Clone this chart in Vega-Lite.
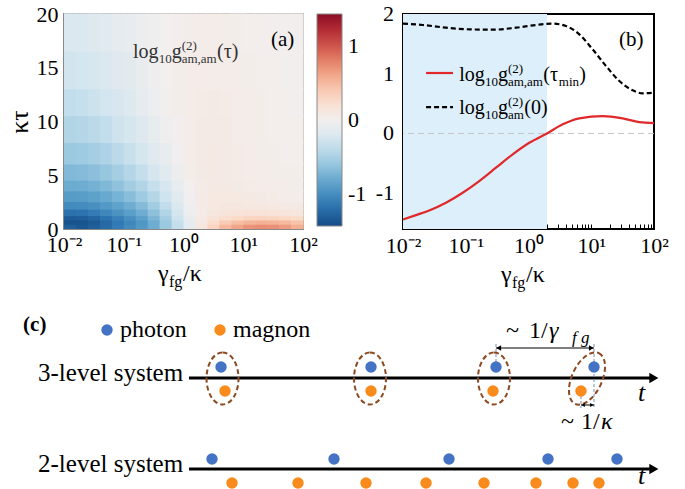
{
  "$schema": "https://vega.github.io/schema/vega-lite/v6.json",
  "background": "white",
  "padding": {"left": 5, "top": 2, "right": 0, "bottom": 0},
  "spacing": -1,
  "resolve": {"scale": {"color": "independent"}, "legend": {"color": "independent"}},
  "datasets": {
    "xbins": [
      {"k": 0, "x": 0.01, "x2": 0.015849},
      {"k": 1, "x": 0.015849, "x2": 0.025119},
      {"k": 2, "x": 0.025119, "x2": 0.039811},
      {"k": 3, "x": 0.039811, "x2": 0.063096},
      {"k": 4, "x": 0.063096, "x2": 0.1},
      {"k": 5, "x": 0.1, "x2": 0.158489},
      {"k": 6, "x": 0.158489, "x2": 0.251189},
      {"k": 7, "x": 0.251189, "x2": 0.398107},
      {"k": 8, "x": 0.398107, "x2": 0.630957},
      {"k": 9, "x": 0.630957, "x2": 1},
      {"k": 10, "x": 1, "x2": 1.584893},
      {"k": 11, "x": 1.584893, "x2": 2.511886},
      {"k": 12, "x": 2.511886, "x2": 3.981072},
      {"k": 13, "x": 3.981072, "x2": 6.309573},
      {"k": 14, "x": 6.309573, "x2": 10},
      {"k": 15, "x": 10, "x2": 15.848932},
      {"k": 16, "x": 15.848932, "x2": 25.118864},
      {"k": 17, "x": 25.118864, "x2": 39.810717},
      {"k": 18, "x": 39.810717, "x2": 63.095734},
      {"k": 19, "x": 63.095734, "x2": 100}
    ]
  },
  "vconcat": [
    {
      "hconcat": [
        {
          "width": 239,
          "height": 215,
          "view": {"stroke": "#888888", "strokeWidth": 2},
          "layer": [
            {
              "data": {"values": [
                {"y": 0, "y2": 0.4, "k": [0,1,2,3,4,5,6,7,8,9,10,11,12,13,14,15,16,17,18,19], "v": [-1.3,-1.35,-1.3,-1.22,-1.12,-1.02,-0.92,-0.78,-0.58,-0.36,-0.12,0.12,0.33,0.5,0.62,0.7,0.73,0.72,0.66,0.56]},
                {"y": 0.4, "y2": 0.8, "k": [0,1,2,3,4,5,6,7,8,9,10,11,12,13,14,15,16,17,18,19], "v": [-1.38,-1.38,-1.33,-1.24,-1.14,-1.04,-0.93,-0.78,-0.58,-0.35,-0.11,0.1,0.26,0.38,0.47,0.53,0.55,0.54,0.5,0.44]},
                {"y": 0.8, "y2": 1.2, "k": [0,1,2,3,4,5,6,7,8,9,10,11,12,13,14,15,16,17,18,19], "v": [-1.32,-1.31,-1.26,-1.17,-1.08,-0.98,-0.87,-0.72,-0.53,-0.31,-0.09,0.08,0.17,0.24,0.29,0.32,0.33,0.32,0.3,0.27]},
                {"y": 1.2, "y2": 1.8, "k": [0,1,2,3,4,5,6,7,8,9,10,11,12,13,14,15,16,17,18,19], "v": [-1.18,-1.17,-1.12,-1.04,-0.96,-0.88,-0.78,-0.64,-0.46,-0.26,-0.06,0.06,0.12,0.15,0.17,0.18,0.18,0.17,0.15,0.13]},
                {"y": 1.8, "y2": 2.5, "k": [0,1,2,3,4,5,6,7,8,9,10,11,12,13,14,15,16,17,18,19], "v": [-1.02,-1.01,-0.98,-0.92,-0.85,-0.78,-0.68,-0.55,-0.38,-0.2,-0.04,0.06,0.09,0.11,0.11,0.1,0.1,0.09,0.08,0.07]},
                {"y": 2.5, "y2": 3.5, "k": [0,1,2,3,4,5,6,7,8,9,10,11,12,13,14,15,16,17,18,19], "v": [-0.9,-0.89,-0.86,-0.81,-0.74,-0.66,-0.56,-0.44,-0.3,-0.15,-0.02,0.06,0.09,0.09,0.09,0.08,0.07,0.06,0.05,0.05]},
                {"y": 3.5, "y2": 4.5, "k": [0,1,2,3,4,5,6,7,8,9,10,11,12,13,14,15,16,17,18,19], "v": [-0.79,-0.78,-0.75,-0.7,-0.63,-0.55,-0.46,-0.35,-0.23,-0.1,0.0,0.06,0.08,0.08,0.07,0.06,0.05,0.04,0.04,0.03]},
                {"y": 4.5, "y2": 6, "k": [0,1,2,3,4,5,6,7,8,9,10,11,12,13,14,15,16,17,18,19], "v": [-0.69,-0.68,-0.65,-0.6,-0.53,-0.45,-0.36,-0.26,-0.15,-0.05,0.03,0.07,0.08,0.07,0.06,0.05,0.04,0.03,0.03,0.03]},
                {"y": 6, "y2": 8, "k": [0,1,2,3,4,5,6,7,8,9,10,11,12,13,14,15,16,17,18,19], "v": [-0.58,-0.56,-0.53,-0.48,-0.41,-0.34,-0.26,-0.17,-0.09,-0.02,0.04,0.07,0.08,0.07,0.06,0.04,0.03,0.03,0.02,0.02]},
                {"y": 8, "y2": 10.5, "k": [0,1,2,3,4,5,6,7,8,9,10,11,12,13,14,15,16,17,18,19], "v": [-0.46,-0.44,-0.41,-0.37,-0.31,-0.25,-0.18,-0.11,-0.04,0.01,0.05,0.07,0.07,0.07,0.05,0.04,0.03,0.02,0.02,0.02]},
                {"y": 10.5, "y2": 13, "k": [0,1,2,3,4,5,6,7,8,9,10,11,12,13,14,15,16,17,18,19], "v": [-0.37,-0.35,-0.32,-0.28,-0.23,-0.18,-0.12,-0.06,-0.01,0.03,0.05,0.06,0.07,0.06,0.05,0.04,0.03,0.02,0.02,0.01]},
                {"y": 13, "y2": 16.5, "k": [0,1,2,3,4,5,6,7,8,9,10,11,12,13,14,15,16,17,18,19], "v": [-0.29,-0.27,-0.24,-0.21,-0.17,-0.13,-0.08,-0.04,0.0,0.03,0.05,0.05,0.05,0.05,0.04,0.03,0.02,0.02,0.01,0.01]},
                {"y": 16.5, "y2": 20, "k": [0,1,2,3,4,5,6,7,8,9,10,11,12,13,14,15,16,17,18,19], "v": [-0.21,-0.2,-0.18,-0.15,-0.12,-0.09,-0.06,-0.03,0.0,0.02,0.03,0.04,0.04,0.03,0.03,0.02,0.02,0.01,0.01,0.01]}
              ]},
              "transform": [
                {"flatten": ["k", "v"]},
                {"lookup": "k", "from": {"data": {"name": "xbins"}, "key": "k", "fields": ["x", "x2"]}}
              ],
              "mark": {"type": "rect", "x2Offset": 0.7, "y2Offset": -0.7},
              "encoding": {
                "x": {"field": "x", "type": "quantitative", "scale": {"type": "log", "domain": [0.01, 100], "nice": false},
                  "axis": {"values": [0.01, 0.1, 1, 10, 100], "labelExpr": "datum.value < 0.05 ? '10⁻²' : datum.value < 0.5 ? '10⁻¹' : datum.value < 5 ? '10⁰' : datum.value < 50 ? '10¹' : '10²'", "ticks": false, "labelPadding": 5, "title": null, "labelFlush": false, "labelOverlap": false}},
                "x2": {"field": "x2"},
                "y": {"field": "y", "type": "quantitative", "scale": {"domain": [0, 20], "nice": false},
                  "axis": {"values": [0, 5, 10, 15, 20], "ticks": false, "labelPadding": 6, "title": "κτ", "titleFontSize": 26, "titlePadding": 4, "labelFlush": false}},
                "y2": {"field": "y2"},
                "color": {"field": "v", "type": "quantitative", "scale": {"scheme": "redblue", "reverse": true, "domain": [-1.43, 1.43]},
                  "legend": {"orient": "right", "title": null, "values": [-1, 0, 1], "gradientLength": 212, "gradientThickness": 25, "offset": 14, "padding": 0, "labelFontSize": 22, "labelFont": "Liberation Serif", "labelColor": "black", "labelOffset": 6, "gradientStrokeColor": "#888888", "gradientStrokeWidth": 1, "labelExpr": "datum.value < 0 ? '-1' : datum.label"}}
              }
            },
            {"data": {"values": [{}]}, "mark": {"type": "text", "text": "log", "font": "Liberation Serif", "fontSize": 20, "align": "left", "baseline": "alphabetic", "color": "#333333"}, "encoding": {"x": {"datum": 0.143}, "y": {"datum": 15.93}}},
            {"data": {"values": [{}]}, "mark": {"type": "text", "text": "10", "font": "Liberation Serif", "fontSize": 13, "align": "left", "baseline": "alphabetic", "dx": 25.6, "dy": 5, "color": "#333333"}, "encoding": {"x": {"datum": 0.143}, "y": {"datum": 15.93}}},
            {"data": {"values": [{}]}, "mark": {"type": "text", "text": "g", "font": "Liberation Serif", "fontSize": 20, "align": "left", "baseline": "alphabetic", "dx": 38.6, "color": "#333333"}, "encoding": {"x": {"datum": 0.143}, "y": {"datum": 15.93}}},
            {"data": {"values": [{}]}, "mark": {"type": "text", "text": "(2)", "font": "Liberation Serif", "fontSize": 13, "align": "left", "baseline": "alphabetic", "dx": 48.6, "dy": -8, "color": "#333333"}, "encoding": {"x": {"datum": 0.143}, "y": {"datum": 15.93}}},
            {"data": {"values": [{}]}, "mark": {"type": "text", "text": "am,am", "font": "Liberation Serif", "fontSize": 13, "align": "left", "baseline": "alphabetic", "dx": 48.6, "dy": 5, "color": "#333333"}, "encoding": {"x": {"datum": 0.143}, "y": {"datum": 15.93}}},
            {"data": {"values": [{}]}, "mark": {"type": "text", "text": "(τ)", "font": "Liberation Serif", "fontSize": 20, "align": "left", "baseline": "alphabetic", "dx": 84, "color": "#333333"}, "encoding": {"x": {"datum": 0.143}, "y": {"datum": 15.93}}},
            {"data": {"values": [{}]}, "mark": {"type": "text", "text": "(a)", "font": "Liberation Serif", "fontSize": 21, "align": "left", "baseline": "alphabetic"}, "encoding": {"x": {"datum": 29.1}, "y": {"datum": 17.0}}},
            {"data": {"values": [{}]}, "mark": {"type": "text", "text": "γ", "font": "Liberation Serif", "fontSize": 24, "align": "left", "baseline": "alphabetic"}, "encoding": {"x": {"datum": 0.374}, "y": {"datum": -4.8}}},
            {"data": {"values": [{}]}, "mark": {"type": "text", "text": "fg", "font": "Liberation Serif", "fontSize": 16, "align": "left", "baseline": "alphabetic", "dx": 11, "dy": 6}, "encoding": {"x": {"datum": 0.374}, "y": {"datum": -4.8}}},
            {"data": {"values": [{}]}, "mark": {"type": "text", "text": "/κ", "font": "Liberation Serif", "fontSize": 24, "align": "left", "baseline": "alphabetic", "dx": 25}, "encoding": {"x": {"datum": 0.374}, "y": {"datum": -4.8}}}
          ]
        },
        {
          "width": 251,
          "height": 215,
          "view": {"stroke": "black", "strokeWidth": 2},
          "layer": [
            {
              "data": {"values": [{"x": 0.01, "x2": 1.97}]},
              "mark": {"type": "rect", "color": "#ddeffb"},
              "encoding": {
                "x": {"field": "x", "type": "quantitative", "scale": {"type": "log", "domain": [0.01, 100], "nice": false}},
                "x2": {"field": "x2"}
              }
            },
            {
              "data": {"values": [{"v": 0}]},
              "mark": {"type": "rule", "color": "#c4c4c4", "strokeDash": [6, 4], "strokeWidth": 1},
              "encoding": {"y": {"field": "v", "type": "quantitative", "scale": {"domain": [-1.6, 2], "nice": false, "zero": false}}}
            },
            {
              "data": {"values": [
                {"g": 0.01, "v": -1.44}, {"g": 0.0161, "v": -1.367}, {"g": 0.0262, "v": -1.289}, {"g": 0.0484, "v": -1.16},
                {"g": 0.0893, "v": -0.993}, {"g": 0.164, "v": -0.797}, {"g": 0.303, "v": -0.574}, {"g": 0.56, "v": -0.35},
                {"g": 1.03, "v": -0.156}, {"g": 1.97, "v": 0.0}, {"g": 3.51, "v": 0.152}, {"g": 6.46, "v": 0.253},
                {"g": 15.2, "v": 0.291}, {"g": 31.6, "v": 0.253}, {"g": 58.3, "v": 0.191}, {"g": 100, "v": 0.174}
              ]},
              "mark": {"type": "line", "color": "#e0282a", "strokeWidth": 2.2, "interpolate": "monotone"},
              "encoding": {
                "x": {"field": "g", "type": "quantitative", "scale": {"type": "log", "domain": [0.01, 100], "nice": false},
                  "axis": {"values": [0.01,0.02,0.03,0.04,0.05,0.06,0.07,0.08,0.09,0.1,0.2,0.3,0.4,0.5,0.6,0.7,0.8,0.9,1,2,3,4,5,6,7,8,9,10,20,30,40,50,60,70,80,90,100], "labelExpr": "datum.value == 0.01 ? '10⁻²' : datum.value == 0.1 ? '10⁻¹' : datum.value == 1 ? '10⁰' : datum.value == 10 ? '10¹' : datum.value == 100 ? '10²' : ''", "tickSize": -5, "tickColor": "black", "tickWidth": 1, "labelPadding": 11, "title": null, "labelFlush": false, "labelOverlap": false}},
                "y": {"field": "v", "type": "quantitative", "scale": {"domain": [-1.6, 2], "nice": false, "zero": false},
                  "axis": {"values": [-1.5, -1, -0.5, 0, 0.5, 1, 1.5, 2], "labels": false, "tickSize": -5, "tickColor": "black", "tickWidth": 1.2, "title": null}}
              }
            },
            {
              "data": {"values": [
                {"g": 0.01, "v": 1.838}, {"g": 0.0206, "v": 1.816}, {"g": 0.0484, "v": 1.771}, {"g": 0.114, "v": 1.743},
                {"g": 0.269, "v": 1.737}, {"g": 0.632, "v": 1.771}, {"g": 1.318, "v": 1.816}, {"g": 2.43, "v": 1.838},
                {"g": 3.96, "v": 1.799}, {"g": 6.46, "v": 1.66}, {"g": 10.5, "v": 1.409}, {"g": 17.2, "v": 1.129},
                {"g": 28.0, "v": 0.878}, {"g": 45.7, "v": 0.722}, {"g": 66.1, "v": 0.672}, {"g": 100, "v": 0.682}
              ]},
              "mark": {"type": "line", "color": "black", "strokeWidth": 2.2, "strokeDash": [5, 3], "interpolate": "monotone"},
              "encoding": {
                "x": {"field": "g", "type": "quantitative"},
                "y": {"field": "v", "type": "quantitative"}
              }
            },
            {
              "data": {"values": [{"v": 2, "l": "2"}, {"v": 1, "l": "1"}, {"v": 0, "l": "0"}, {"v": -1, "l": "-1"}]},
              "mark": {"type": "text", "font": "Liberation Serif", "fontSize": 22, "align": "right", "baseline": "middle", "dx": -9},
              "encoding": {"x": {"datum": 0.01}, "y": {"field": "v", "type": "quantitative"}, "text": {"field": "l"}}
            },
            {"data": {"values": [{"g": 0.0233, "g2": 0.0627, "v": 1.012}]}, "mark": {"type": "rule", "color": "#e0282a", "strokeWidth": 2.2}, "encoding": {"x": {"field": "g", "type": "quantitative"}, "x2": {"field": "g2"}, "y": {"field": "v", "type": "quantitative"}}},
            {"data": {"values": [{"g": 0.0233, "g2": 0.0627, "v": 0.442}]}, "mark": {"type": "rule", "color": "black", "strokeWidth": 2.2, "strokeDash": [5, 3]}, "encoding": {"x": {"field": "g", "type": "quantitative"}, "x2": {"field": "g2"}, "y": {"field": "v", "type": "quantitative"}}},
            {"data": {"values": [{}]}, "mark": {"type": "text", "text": "log", "font": "Liberation Serif", "fontSize": 20, "align": "left", "baseline": "alphabetic"}, "encoding": {"x": {"datum": 0.0789}, "y": {"datum": 0.878}}},
            {"data": {"values": [{}]}, "mark": {"type": "text", "text": "10", "font": "Liberation Serif", "fontSize": 13, "align": "left", "baseline": "alphabetic", "dx": 25.6, "dy": 5}, "encoding": {"x": {"datum": 0.0789}, "y": {"datum": 0.878}}},
            {"data": {"values": [{}]}, "mark": {"type": "text", "text": "g", "font": "Liberation Serif", "fontSize": 20, "align": "left", "baseline": "alphabetic", "dx": 38.6}, "encoding": {"x": {"datum": 0.0789}, "y": {"datum": 0.878}}},
            {"data": {"values": [{}]}, "mark": {"type": "text", "text": "(2)", "font": "Liberation Serif", "fontSize": 13, "align": "left", "baseline": "alphabetic", "dx": 48.6, "dy": -8}, "encoding": {"x": {"datum": 0.0789}, "y": {"datum": 0.878}}},
            {"data": {"values": [{}]}, "mark": {"type": "text", "text": "am,am", "font": "Liberation Serif", "fontSize": 13, "align": "left", "baseline": "alphabetic", "dx": 48.6, "dy": 5}, "encoding": {"x": {"datum": 0.0789}, "y": {"datum": 0.878}}},
            {"data": {"values": [{}]}, "mark": {"type": "text", "text": "(τ", "font": "Liberation Serif", "fontSize": 20, "align": "left", "baseline": "alphabetic", "dx": 84}, "encoding": {"x": {"datum": 0.0789}, "y": {"datum": 0.878}}},
            {"data": {"values": [{}]}, "mark": {"type": "text", "text": "min", "font": "Liberation Serif", "fontSize": 13, "align": "left", "baseline": "alphabetic", "dx": 99.5, "dy": 5}, "encoding": {"x": {"datum": 0.0789}, "y": {"datum": 0.878}}},
            {"data": {"values": [{}]}, "mark": {"type": "text", "text": ")", "font": "Liberation Serif", "fontSize": 20, "align": "left", "baseline": "alphabetic", "dx": 120}, "encoding": {"x": {"datum": 0.0789}, "y": {"datum": 0.878}}},
            {"data": {"values": [{}]}, "mark": {"type": "text", "text": "log", "font": "Liberation Serif", "fontSize": 20, "align": "left", "baseline": "alphabetic"}, "encoding": {"x": {"datum": 0.0789}, "y": {"datum": 0.32}}},
            {"data": {"values": [{}]}, "mark": {"type": "text", "text": "10", "font": "Liberation Serif", "fontSize": 13, "align": "left", "baseline": "alphabetic", "dx": 25.6, "dy": 5}, "encoding": {"x": {"datum": 0.0789}, "y": {"datum": 0.32}}},
            {"data": {"values": [{}]}, "mark": {"type": "text", "text": "g", "font": "Liberation Serif", "fontSize": 20, "align": "left", "baseline": "alphabetic", "dx": 38.6}, "encoding": {"x": {"datum": 0.0789}, "y": {"datum": 0.32}}},
            {"data": {"values": [{}]}, "mark": {"type": "text", "text": "(2)", "font": "Liberation Serif", "fontSize": 13, "align": "left", "baseline": "alphabetic", "dx": 48.6, "dy": -8}, "encoding": {"x": {"datum": 0.0789}, "y": {"datum": 0.32}}},
            {"data": {"values": [{}]}, "mark": {"type": "text", "text": "am", "font": "Liberation Serif", "fontSize": 13, "align": "left", "baseline": "alphabetic", "dx": 48.6, "dy": 5}, "encoding": {"x": {"datum": 0.0789}, "y": {"datum": 0.32}}},
            {"data": {"values": [{}]}, "mark": {"type": "text", "text": "(0)", "font": "Liberation Serif", "fontSize": 20, "align": "left", "baseline": "alphabetic", "dx": 65}, "encoding": {"x": {"datum": 0.0789}, "y": {"datum": 0.32}}},
            {"data": {"values": [{}]}, "mark": {"type": "text", "text": "(b)", "font": "Liberation Serif", "fontSize": 21, "align": "left", "baseline": "alphabetic"}, "encoding": {"x": {"datum": 27.7}, "y": {"datum": 1.464}}},
            {"data": {"values": [{}]}, "mark": {"type": "text", "text": "γ", "font": "Liberation Serif", "fontSize": 24, "align": "left", "baseline": "alphabetic"}, "encoding": {"x": {"datum": 0.365}, "y": {"datum": -2.49}}},
            {"data": {"values": [{}]}, "mark": {"type": "text", "text": "fg", "font": "Liberation Serif", "fontSize": 16, "align": "left", "baseline": "alphabetic", "dx": 11, "dy": 6}, "encoding": {"x": {"datum": 0.365}, "y": {"datum": -2.49}}},
            {"data": {"values": [{}]}, "mark": {"type": "text", "text": "/κ", "font": "Liberation Serif", "fontSize": 24, "align": "left", "baseline": "alphabetic", "dx": 25}, "encoding": {"x": {"datum": 0.365}, "y": {"datum": -2.49}}}
          ]
        }
      ],
      "spacing": 100,
      "bounds": "flush",
      "resolve": {"scale": {"color": "independent"}, "legend": {"color": "independent"}}
    },
    {
      "width": 622,
      "height": 197,
      "view": {"stroke": null},
      "layer": [
        {
          "data": {"values": [{"sys": "3-level", "h": 11.2}, {"sys": "2-level", "h": 2.1}]},
          "mark": {"type": "rule", "color": "black", "strokeWidth": 3},
          "encoding": {
            "x": {"datum": 0, "type": "quantitative", "scale": {"domain": [-26.6, 105.745], "nice": false, "zero": false}, "axis": null},
            "x2": {"datum": 98.9},
            "y": {"field": "h", "type": "quantitative", "scale": {"domain": [0, 19.7], "nice": false, "zero": false}, "axis": null}
          }
        },
        {
          "data": {"values": [{"sys": "3-level", "h": 11.2}, {"sys": "2-level", "h": 2.1}]},
          "mark": {"type": "point", "shape": "triangle-right", "filled": true, "color": "black", "size": 110, "opacity": 1},
          "encoding": {"x": {"datum": 98.9, "axis": null}, "y": {"field": "h", "type": "quantitative", "axis": null}}
        },
        {
          "data": {"values": [{"t": 7.13, "h": 11.15}, {"t": 38.51, "h": 11.15}, {"t": 64.89, "h": 11.15}]},
          "mark": {"type": "point", "shape": "M0,-1A0.615,1,0,1,1,0,1A0.615,1,0,1,1,0,-1Z", "size": 2704, "filled": false, "stroke": "#8b4a22", "strokeWidth": 2, "strokeDash": [5, 3], "opacity": 1},
          "encoding": {"x": {"field": "t", "type": "quantitative", "axis": null}, "y": {"field": "h", "type": "quantitative", "axis": null}}
        },
        {
          "data": {"values": [{"t": 84.68, "h": 11.15}]},
          "mark": {"type": "point", "shape": "M0,-1A0.536,1,0,1,1,0,1A0.536,1,0,1,1,0,-1Z", "size": 3136, "angle": 25, "filled": false, "stroke": "#8b4a22", "strokeWidth": 2, "strokeDash": [5, 3], "opacity": 1},
          "encoding": {"x": {"field": "t", "type": "quantitative", "axis": null}, "y": {"field": "h", "type": "quantitative", "axis": null}}
        },
        {
          "data": {"values": [{"t": 65.32, "h": 14.6, "h2": 12.6}, {"t": 86.17, "h": 14.6, "h2": 8.2}, {"t": 83.4, "h": 9.4, "h2": 8.2}]},
          "mark": {"type": "rule", "color": "#7d8fb0", "strokeWidth": 1, "strokeDash": [3, 2]},
          "encoding": {"x": {"field": "t", "type": "quantitative", "axis": null}, "y": {"field": "h", "type": "quantitative", "axis": null}, "y2": {"field": "h2"}}
        },
        {
          "data": {"values": [
            {"sys": "3-level", "p": "photon", "t": 6.81, "h": 12.3},
            {"sys": "3-level", "p": "photon", "t": 38.72, "h": 12.3},
            {"sys": "3-level", "p": "photon", "t": 65.32, "h": 12.3},
            {"sys": "3-level", "p": "photon", "t": 86.17, "h": 12.3},
            {"sys": "3-level", "p": "magnon", "t": 7.66, "h": 9.9},
            {"sys": "3-level", "p": "magnon", "t": 38.72, "h": 9.9},
            {"sys": "3-level", "p": "magnon", "t": 64.68, "h": 9.9},
            {"sys": "3-level", "p": "magnon", "t": 83.4, "h": 9.9},
            {"sys": "2-level", "p": "photon", "t": 4.89, "h": 3.1},
            {"sys": "2-level", "p": "photon", "t": 30.85, "h": 3.1},
            {"sys": "2-level", "p": "photon", "t": 55.32, "h": 3.1},
            {"sys": "2-level", "p": "photon", "t": 76.38, "h": 3.1},
            {"sys": "2-level", "p": "photon", "t": 91.06, "h": 3.1},
            {"sys": "2-level", "p": "magnon", "t": 9.15, "h": 0.7},
            {"sys": "2-level", "p": "magnon", "t": 23.19, "h": 0.7},
            {"sys": "2-level", "p": "magnon", "t": 37.66, "h": 0.7},
            {"sys": "2-level", "p": "magnon", "t": 50.43, "h": 0.7},
            {"sys": "2-level", "p": "magnon", "t": 62.77, "h": 0.7},
            {"sys": "2-level", "p": "magnon", "t": 73.83, "h": 0.7},
            {"sys": "2-level", "p": "magnon", "t": 81.7, "h": 0.7},
            {"sys": "2-level", "p": "magnon", "t": 87.23, "h": 0.7}
          ]},
          "mark": {"type": "point", "shape": "circle", "filled": true, "size": 130, "opacity": 1},
          "encoding": {
            "x": {"field": "t", "type": "quantitative", "axis": null},
            "y": {"field": "h", "type": "quantitative", "axis": null},
            "color": {"field": "p", "type": "nominal", "scale": {"domain": ["photon", "magnon"], "range": ["#4472c4", "#f98a1c"]},
              "legend": {"orient": "none", "legendX": 31, "legendY": 25, "direction": "horizontal", "title": null, "labelFontSize": 24, "labelFont": "Liberation Serif", "labelColor": "black", "symbolSize": 130, "symbolType": "circle", "symbolStrokeWidth": 0, "labelOffset": 1, "columnPadding": 21, "padding": 0}}
          }
        },
        {"data": {"values": [{}]}, "mark": {"type": "rule", "color": "black", "strokeWidth": 1}, "encoding": {"x": {"datum": 65.32, "axis": null}, "x2": {"datum": 86.17}, "y": {"datum": 14.2, "axis": null}}},
        {"data": {"values": [{}]}, "mark": {"type": "point", "shape": "triangle-left", "filled": true, "color": "black", "size": 30, "opacity": 1}, "encoding": {"x": {"datum": 65.9, "axis": null}, "y": {"datum": 14.2, "axis": null}}},
        {"data": {"values": [{}]}, "mark": {"type": "point", "shape": "triangle-right", "filled": true, "color": "black", "size": 30, "opacity": 1}, "encoding": {"x": {"datum": 85.6, "axis": null}, "y": {"datum": 14.2, "axis": null}}},
        {"data": {"values": [{}]}, "mark": {"type": "rule", "color": "black", "strokeWidth": 1}, "encoding": {"x": {"datum": 83.4, "axis": null}, "x2": {"datum": 86.17}, "y": {"datum": 8.5, "axis": null}}},
        {"data": {"values": [{}]}, "mark": {"type": "point", "shape": "triangle-left", "filled": true, "color": "black", "size": 16, "opacity": 1}, "encoding": {"x": {"datum": 83.85, "axis": null}, "y": {"datum": 8.5, "axis": null}}},
        {"data": {"values": [{}]}, "mark": {"type": "point", "shape": "triangle-right", "filled": true, "color": "black", "size": 16, "opacity": 1}, "encoding": {"x": {"datum": 85.72, "axis": null}, "y": {"datum": 8.5, "axis": null}}},
        {"data": {"values": [{}]}, "mark": {"type": "text", "text": "(c)", "font": "Liberation Serif", "fontSize": 21, "fontWeight": "bold", "align": "left", "baseline": "alphabetic"}, "encoding": {"x": {"datum": -35.3, "axis": null}, "y": {"datum": 15.9, "axis": null}}},
        {"data": {"values": [{}]}, "mark": {"type": "text", "text": "3-level system", "font": "Liberation Serif", "fontSize": 25, "align": "left", "baseline": "alphabetic"}, "encoding": {"x": {"datum": -32.13, "axis": null}, "y": {"datum": 10.9, "axis": null}}},
        {"data": {"values": [{}]}, "mark": {"type": "text", "text": "2-level system", "font": "Liberation Serif", "fontSize": 25, "align": "left", "baseline": "alphabetic"}, "encoding": {"x": {"datum": -32.13, "axis": null}, "y": {"datum": 1.8, "axis": null}}},
        {"data": {"values": [{}]}, "mark": {"type": "text", "text": "~", "font": "Liberation Serif", "fontSize": 24, "align": "left", "baseline": "alphabetic"}, "encoding": {"x": {"datum": 67.45, "axis": null}, "y": {"datum": 15.2, "axis": null}}},
        {"data": {"values": [{}]}, "mark": {"type": "text", "text": "1/", "font": "Liberation Serif", "fontSize": 24, "align": "left", "baseline": "alphabetic"}, "encoding": {"x": {"datum": 72.34, "axis": null}, "y": {"datum": 15.2, "axis": null}}},
        {"data": {"values": [{}]}, "mark": {"type": "text", "text": "γ", "font": "Liberation Serif", "fontSize": 24, "fontStyle": "italic", "align": "left", "baseline": "alphabetic"}, "encoding": {"x": {"datum": 76.6, "axis": null}, "y": {"datum": 15.2, "axis": null}}},
        {"data": {"values": [{}]}, "mark": {"type": "text", "text": "f g", "font": "Liberation Serif", "fontSize": 17, "fontStyle": "italic", "align": "left", "baseline": "alphabetic", "dy": 5}, "encoding": {"x": {"datum": 81.49, "axis": null}, "y": {"datum": 15.2, "axis": null}}},
        {"data": {"values": [{}]}, "mark": {"type": "text", "text": "~", "font": "Liberation Serif", "fontSize": 24, "align": "left", "baseline": "alphabetic"}, "encoding": {"x": {"datum": 79.15, "axis": null}, "y": {"datum": 6.1, "axis": null}}},
        {"data": {"values": [{}]}, "mark": {"type": "text", "text": "1/", "font": "Liberation Serif", "fontSize": 24, "align": "left", "baseline": "alphabetic"}, "encoding": {"x": {"datum": 83.4, "axis": null}, "y": {"datum": 6.1, "axis": null}}},
        {"data": {"values": [{}]}, "mark": {"type": "text", "text": "κ", "font": "Liberation Serif", "fontSize": 24, "fontStyle": "italic", "align": "left", "baseline": "alphabetic"}, "encoding": {"x": {"datum": 87.66, "axis": null}, "y": {"datum": 6.1, "axis": null}}},
        {"data": {"values": [{}]}, "mark": {"type": "text", "text": "t", "font": "Liberation Serif", "fontSize": 26, "fontStyle": "italic", "align": "left", "baseline": "alphabetic"}, "encoding": {"x": {"datum": 95.53, "axis": null}, "y": {"datum": 8.9, "axis": null}}},
        {"data": {"values": [{}]}, "mark": {"type": "text", "text": "t", "font": "Liberation Serif", "fontSize": 26, "fontStyle": "italic", "align": "left", "baseline": "alphabetic"}, "encoding": {"x": {"datum": 95.53, "axis": null}, "y": {"datum": 0.65, "axis": null}}}
      ]
    }
  ],
  "config": {
    "font": "Liberation Serif",
    "axis": {"labelFont": "Liberation Serif", "labelFontSize": 22, "labelColor": "black", "grid": false, "domain": false, "titleFont": "Liberation Serif", "titleFontWeight": "normal", "titleColor": "black"},
    "text": {"font": "Liberation Serif", "color": "black"}
  }
}
